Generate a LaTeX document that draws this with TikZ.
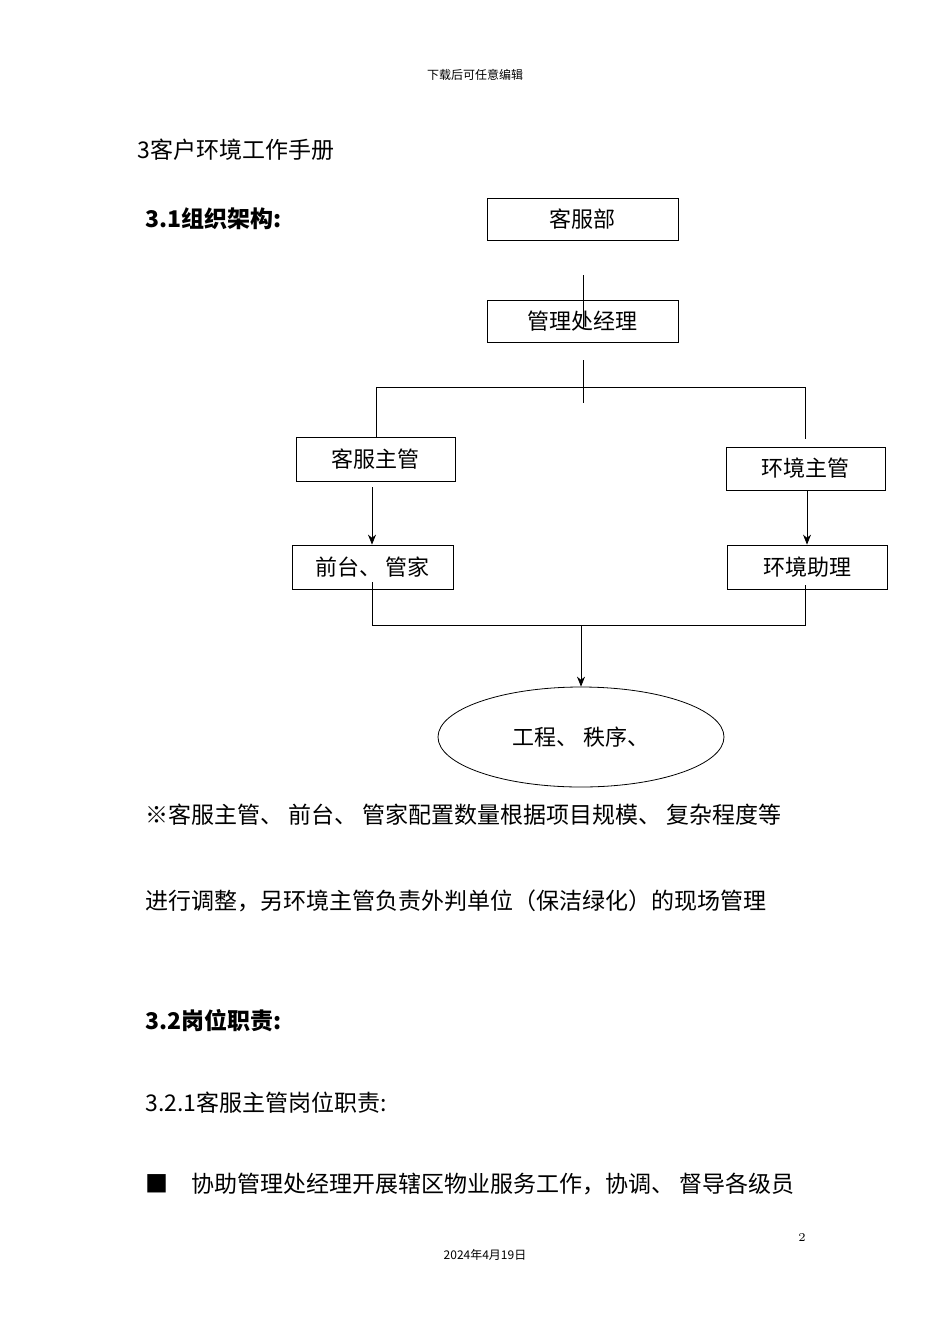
\documentclass[tikz,border=0pt]{standalone}
\usepackage{fontspec}
\newfontfamily\cjk{Noto Sans CJK SC}
\usetikzlibrary{positioning, arrows.meta, shapes.geometric}

\begin{document}
\begin{tikzpicture}[
    x=0.5pt, y=-0.5pt,
    % boxes of the chart
    post/.style={
        draw=black,
        thin,
        minimum height=21pt,
        font=\cjk\fontsize{11}{13}\selectfont,
        inner sep=0pt
    },
    link/.style={thin},
    arrow/.style={
        -{Stealth[length=5pt, width=4pt]},
        thin
    },
    body text/.style={
        anchor=west,
        font=\cjk\fontsize{11.5}{14}\selectfont,
        inner sep=0pt
    }
]
    \useasboundingbox (0,0) rectangle (950,1344);

    % --- 1. Page texts ---
    \node[font=\cjk\fontsize{6}{7}\selectfont] (header) at (475,75) {下载后可任意编辑};
    \node[body text] (title) at (137,150) {3客户环境工作手册};
    \node[body text] (sec1) at (145,219) {\bfseries 3.1组织架构:};
    \node[body text] (note1) at (145,815) {※客服主管、\ 前台、\ 管家配置数量根据项目规模、\ 复杂程度等};
    \node[body text] (note2) at (145,901) {进行调整，另环境主管负责外判单位（保洁绿化）的现场管理};
    \node[body text] (sec2) at (145,1021) {\bfseries 3.2岗位职责:};
    \node[body text] (sec21) at (145,1103) {3.2.1客服主管岗位职责:};
    \node[body text] (item1) at (145,1184) {■\quad 协助管理处经理开展辖区物业服务工作，协调、\ 督导各级员};
    \node[font=\fontsize{6}{7}\selectfont] (page) at (802,1237) {2};
    \node[font=\cjk\fontsize{6}{7}\selectfont] (date) at (485,1255) {2024年4月19日};

    % --- 2. Chart boxes ---
    \node[post, minimum width=95.5pt] (dept) at (582.5,219.5) {客服部};
    \node[post, minimum width=95.5pt] (mgr) at (582.5,321.5) {管理处经理};
    \node[post, minimum width=79.5pt, minimum height=22pt] (cssup) at (375.5,459) {客服主管};
    \node[post, minimum width=79.5pt, minimum height=21.5pt] (envsup) at (805.5,468.5) {环境主管};
    \node[post, minimum width=80.5pt, minimum height=22pt] (desk) at (372.5,567) {前台、\ 管家};
    \node[post, minimum width=80pt, minimum height=22pt] (envast) at (807,567) {环境助理};
    \node[draw, thin, ellipse, inner sep=0pt, minimum width=143pt, minimum height=50pt,
          font=\cjk\fontsize{11}{13}\selectfont] (units) at (581,737) {工程、\ 秩序、};

    % --- 3. Connectors ---
    \coordinate (deptdown) at (583,275);
    \coordinate (mgrin) at (583,328);
    \coordinate (mgrout) at (583,360);
    \coordinate (splitend) at (583,403);
    \coordinate (splitl) at (376,387);
    \coordinate (splitr) at (805,387);
    \coordinate (joinl) at (372,625);
    \coordinate (joinr) at (805,625);
    \coordinate (joinc) at (581,625);

    \draw[link] (deptdown) -- (mgrin);
    \draw[link] (mgrout) -- (splitend);
    \draw[link] (splitl) -- (splitr);
    \draw[link] (splitl) -- (cssup.north -| splitl);
    \draw[link] (splitr) -- ++(0,52);
    \draw[arrow] (372,487) -- (desk.north -| 372,0);
    \draw[arrow] (envsup.south -| 807,0) -- (envast.north -| 807,0);
    \draw[link] (372,582) -- (joinl) -- (joinr) -- (805,585);
    \draw[arrow] (joinc) -- (units.north);
\end{tikzpicture}
\end{document}
